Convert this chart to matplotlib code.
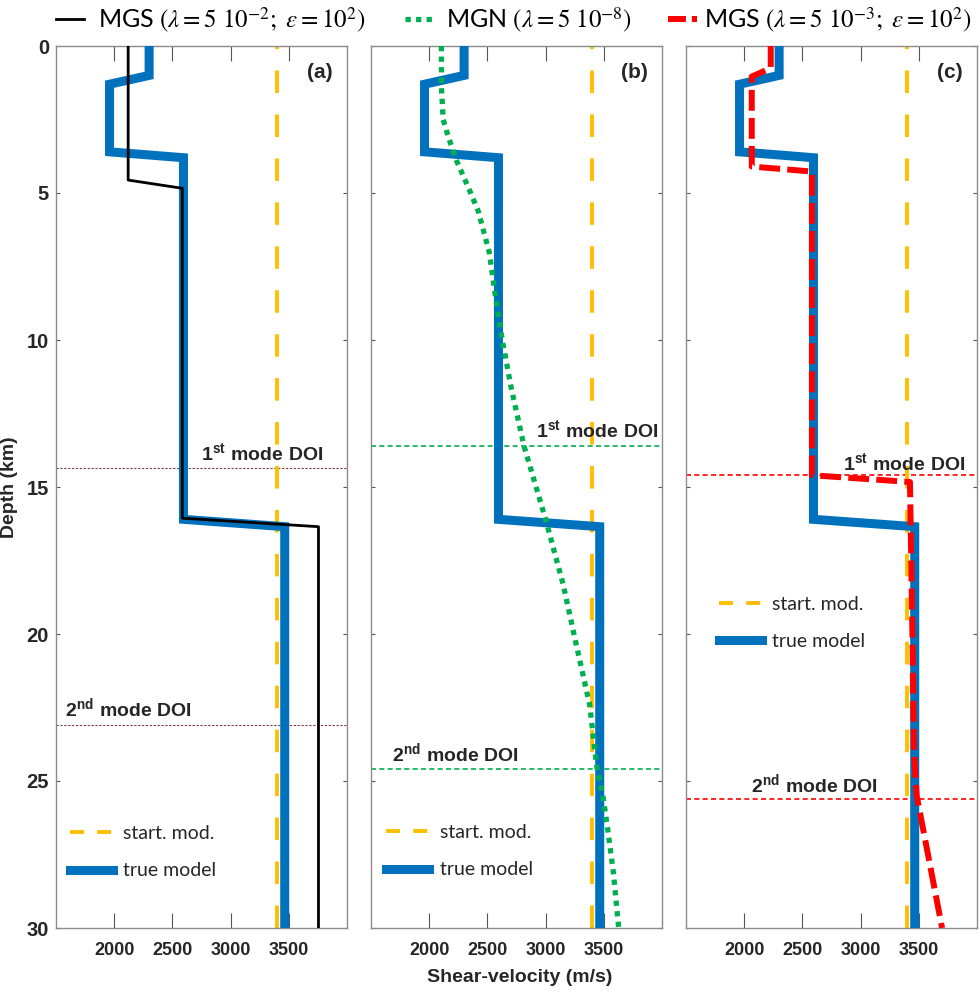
import matplotlib
matplotlib.use("Agg")
import matplotlib.pyplot as plt
from matplotlib.lines import Line2D

plt.rcParams["font.family"] = "sans-serif"
plt.rcParams["font.sans-serif"] = ["Liberation Sans"]
plt.rcParams["mathtext.fontset"] = "custom"
plt.rcParams["mathtext.rm"] = "STIXGeneral"
plt.rcParams["mathtext.it"] = "STIXGeneral:italic"
plt.rcParams["mathtext.bf"] = "Liberation Sans:bold"

# true shear-velocity model (layer steps with short ramps)
true_depth = [0, 1.0, 1.3, 3.6, 3.8, 16.1, 16.35, 30]
true_vs = [2300, 2300, 1960, 1960, 2595, 2595, 3465, 3465]

# homogeneous starting model
start_vs = 3400

# (a) MGS, lambda = 5e-2
mgs_a_depth = [0, 4.56, 4.84, 16.06, 16.35, 30]
mgs_a_vs = [2120, 2120, 2585, 2585, 3755, 3755]

# (b) MGN, lambda = 5e-8
mgn_depth = [0, 1.4, 2.5, 3.1, 3.9, 4.8, 5.6, 7.0, 8.6, 10.0, 11.6, 13.6,
             16.1, 18.3, 20.3, 22.4, 24.5, 25.6, 26.8, 28.1, 30]
mgn_vs = [2105, 2105, 2120, 2165, 2235, 2335, 2420, 2515, 2572, 2628, 2703,
          2814, 3000, 3150, 3260, 3378, 3439, 3496, 3539, 3582, 3628]

# (c) MGS, lambda = 5e-3
mgs_c_depth = [0, 0.75, 1.04, 4.1, 4.27, 14.6, 14.83, 20.0, 24.0, 25.5, 30]
mgs_c_vs = [2228, 2228, 2065, 2065, 2582, 2582, 3424, 3445, 3458, 3482, 3700]

# depths of investigation (1st, 2nd mode)
doi_a = [14.35, 23.1]
doi_b = [13.6, 24.6]
doi_c = [14.6, 25.6]

panel_tags = ["(a)", "(b)", "(c)"]
vs_ticks = [2000, 2500, 3000, 3500]
depth_ticks = [0, 5, 10, 15, 20, 25, 30]

BLUE = "#0072BD"
ORANGE = "#FFBF00"
GREEN = "#00B050"
RED = "#FF0000"
TXT = "#262626"
SANS = ["Liberation Sans"]
LEG = ["Lato"]

fig = plt.figure(figsize=(9.8, 9.96), dpi=100)
lefts = [56 / 980, 371 / 980, 686 / 980]
axes = [fig.add_axes([l, 68 / 996, 291 / 980, 882 / 996]) for l in lefts]


def style_axes(ax, show_ylabels):
    ax.set_xlim(1500, 4000)
    ax.set_ylim(30, 0)
    ax.set_xticks(vs_ticks)
    ax.set_xticklabels([str(v) for v in vs_ticks], family=SANS,
                       fontweight="bold", fontsize=13, color=TXT)
    ax.set_yticks(depth_ticks)
    if show_ylabels:
        ax.set_yticklabels([str(d) for d in depth_ticks], family=SANS,
                           fontweight="bold", fontsize=14.5, color=TXT)
    ax.tick_params(axis="x", direction="in", length=11, width=0.8, top=True,
                   bottom=True, color="#555555", pad=10)
    ax.tick_params(axis="y", direction="in", length=3, width=0.8, left=True,
                   right=True, color="#555555", pad=5,
                   labelleft=show_ylabels)
    for sp in ax.spines.values():
        sp.set_color("#8c8c8c")
        sp.set_linewidth(1.0)


def start_and_true(ax):
    ax.axvline(start_vs, color=ORANGE, lw=2.8, linestyle=(0, (5.8, 5.5)),
               zorder=2)
    ax.plot(true_vs, true_depth, color=BLUE, lw=6.5, solid_joinstyle="miter",
            zorder=3)


def doi_lines(ax, depths, color, lw, ls, lab1, lab2):
    for d in depths:
        ax.axhline(d, color=color, lw=lw, linestyle=ls, zorder=1)
    sup1 = r"1$^{\mathbf{st}}$ mode DOI"
    sup2 = r"2$^{\mathbf{nd}}$ mode DOI"
    ax.text(lab1[0], depths[0] - lab1[1], sup1, ha=lab1[2], va="bottom",
            fontsize=14, fontweight="bold", family=SANS, color=TXT, zorder=5)
    ax.text(lab2[0], depths[1] - lab2[1], sup2, ha=lab2[2], va="bottom",
            fontsize=14, fontweight="bold", family=SANS, color=TXT, zorder=5)


def inner_legend(ax, xfrac, yfrac):
    handles = [
        Line2D([], [], color=ORANGE, lw=2.8, linestyle=(0, (3.6, 3.4))),
        Line2D([], [], color=BLUE, lw=6.5),
    ]
    leg = ax.legend(handles, ["start. mod.", "true model"], loc="center left",
                    bbox_to_anchor=(xfrac, yfrac), frameon=False,
                    prop={"family": LEG, "size": 14}, handlelength=2.2,
                    handletextpad=0.55, labelspacing=1.05, borderpad=0,
                    borderaxespad=0)
    for t in leg.get_texts():
        t.set_color(TXT)
    return leg


def top_legend(ax, handle, label, xfrac, hlen, hpad):
    leg = ax.legend([handle], [label], loc="center left",
                    bbox_to_anchor=(xfrac, 1.0295), frameon=False,
                    prop={"family": LEG, "size": 18}, handlelength=hlen,
                    handletextpad=hpad, borderpad=0, borderaxespad=0)
    for t in leg.get_texts():
        t.set_color("black")
    ax.add_artist(leg)


ax_a, ax_b, ax_c = axes
for i, ax in enumerate(axes):
    style_axes(ax, i == 0)
    start_and_true(ax)
    ax.text(3880, 0.9, panel_tags[i], ha="right", va="center", fontsize=15,
            fontweight="bold", family=SANS, color=TXT, zorder=5)

# (a)
ax_a.plot(mgs_a_vs, mgs_a_depth, color="black", lw=2.0, zorder=4)
doi_lines(ax_a, doi_a, "#7a3b3b", 0.8, (0, (2, 1.5)),
          (3795, 0.1, "right"), (1580, 0.15, "left"))
top_legend(ax_a, Line2D([], [], color="black", lw=2.0),
           r"MGS $(\lambda = 5\ 10^{-2};\ \varepsilon = 10^{2})$",
           0.0, 1.1, 0.6)
inner_legend(ax_a, 0.048, 0.086)

# (b)
ax_b.plot(mgn_vs, mgn_depth, color=GREEN, lw=3.8, linestyle=(0, (1, 1)),
          solid_capstyle="butt", dash_capstyle="butt", zorder=4)
doi_lines(ax_b, doi_b, GREEN, 1.2, (0, (3, 2)),
          (3965, 0.12, "right"), (1680, 0.12, "left"))
top_legend(ax_b, Line2D([], [], color=GREEN, lw=3.8, linestyle=(0, (1, 1)),
                        dash_capstyle="butt"),
           r"MGN $(\lambda = 5\ 10^{-8})$", 0.117, 1.15, 0.5)
inner_legend(ax_b, 0.052, 0.087)

# (c)
ax_c.plot(mgs_c_vs, mgs_c_depth, color=RED, lw=4.3, linestyle=(0, (3.5, 1.2)),
          dash_capstyle="butt", zorder=4)
doi_lines(ax_c, doi_c, RED, 1.2, (0, (3, 2)),
          (3897, 0.0, "right"), (2060, 0.05, "left"))
top_legend(ax_c, Line2D([], [], color=RED, lw=4.3, linestyle=(0, (3, 1)),
                        dash_capstyle="butt"),
           r"MGS $(\lambda = 5\ 10^{-3};\ \varepsilon = 10^{2})$",
           -0.062, 1.15, 0.3)
inner_legend(ax_c, 0.113, 0.346)

ax_a.set_ylabel("Depth (km)", fontsize=14, fontweight="bold", family=SANS,
                color=TXT)
ax_a.yaxis.set_label_coords(-0.13, 0.5)
fig.text(519.5 / 980, 1 - 977 / 996, "Shear-velocity (m/s)", ha="center",
         va="center", fontsize=14, fontweight="bold", family=SANS, color=TXT)

fig.savefig("out.png", dpi=100)
